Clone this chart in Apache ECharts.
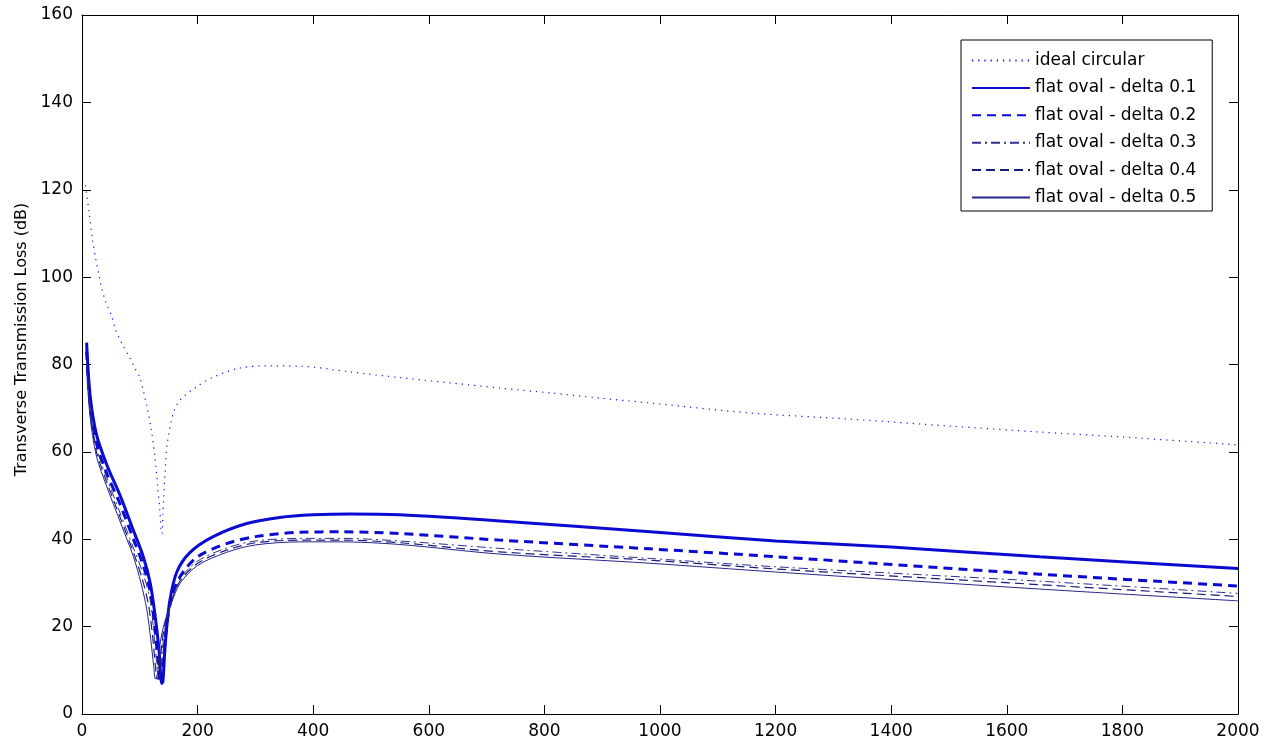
<!DOCTYPE html>
<html>
<head>
<meta charset="utf-8">
<script src="https://cdn.jsdelivr.net/npm/echarts@6/dist/echarts.min.js"></script>
<style>
  html, body { margin: 0; padding: 0; background: #fff; }
  #main { width: 1271px; height: 742px; }
</style>
</head>
<body>
<div id="main"></div>
<script>
// curves, [frequency, loss dB]
var idealCircular = [[6,121],[12,115],[18,108.6],[24,104],[29,100.7],[34,97.4],[41,94.4],[51,91.2],[58,88],[69,84.8],[82,81.7],[90,79.5],[100,77],[112,70.5],[120,65],[126,59],[131,52],[135,46],[137,42],[138.5,41.3],[140,46],[143.6,55],[147.6,62],[158,68.9],[170,71.9],[198,74.9],[227,77.1],[273,79.2],[325,79.7],[380,79.6],[464,78.3],[550,77],[637,75.8],[723,74.6],[810,73.5],[896,72.3],[983,71.2],[1156,68.9],[1329,67.5],[1502,65.9],[1650,64.6],[1800,63.4],[2000,61.6]];
var delta01 = [[8,85],[14,73],[25,64],[43,57],[66,50],[89,42],[106,36],[118,30],[126,23],[133,15],[138,7],[140,7.5],[143,14],[146,19],[152,26],[164,32.5],[187,37],[227,40.6],[285,43.6],[342,45],[400,45.6],[464,45.8],[550,45.6],[723,44.2],[983,41.7],[1200,39.6],[1400,38.2],[1657,36],[2000,33.3]];
var delta02 = [[8,83],[14,71],[25,62],[43,55],[66,48],[89,40],[106,34],[118,28],[125,21],[131,13],[136,7],[139,8],[142,14],[147,21],[155,26.5],[170,31.5],[200,36],[250,39],[300,40.6],[377,41.6],[450,41.7],[550,41.3],[723,39.8],[983,37.8],[1200,36],[1657,32],[2000,29.3]];
var delta03 = [[8,81],[14,70],[25,61],[43,54],[66,46],[89,38],[106,32],[118,26],[124,19],[129,12],[133,8],[136,9],[140,16],[146,21.5],[155,26],[170,31],[200,35],[250,38],[300,39.6],[377,40.2],[450,40.2],[550,39.6],[723,37.9],[983,35.6],[1200,33.7],[1657,30.4],[2000,27.6]];
var delta04 = [[8,80],[14,69],[25,60],[43,53],[66,45],[89,37],[104,31],[115,25],[122,18],[127,11],[130,8],[134,9],[138,16],[145,21.5],[155,26],[170,30.5],[200,34.5],[250,37.5],[300,39.2],[377,39.8],[450,39.8],[550,39.2],[723,37.1],[983,35.2],[1200,33.2],[1657,29.6],[2000,26.9]];
var delta05 = [[8,79],[14,68],[25,59],[43,52],[66,44],[89,36],[102,30],[112,24],[119,17],[124,11],[127,8],[131,9.5],[135,16],[143,21],[155,25.5],[170,30],[200,34],[250,37],[300,38.7],[377,39.4],[450,39.4],[550,38.8],[723,36.6],[983,34.5],[1200,32.5],[1657,28.6],[2000,25.9]];

var seriesNames = ['ideal circular', 'flat oval - delta 0.1', 'flat oval - delta 0.2',
    'flat oval - delta 0.3', 'flat oval - delta 0.4', 'flat oval - delta 0.5'];

var myChart = echarts.init(document.getElementById('main'));
var font = 'DejaVu Sans';

function line(name, data, color, width, type) {
    return {
        name: name, type: 'line', data: data,
        symbol: 'none', smooth: 0.3, animation: false,
        lineStyle: { color: color, width: width, type: type },
        itemStyle: { color: color }
    };
}

var tickStyle = { inside: true, length: 9, lineStyle: { color: '#000' } };
var boxLine = { show: true, onZero: false, lineStyle: { color: '#000' } };
var plain = function (v) { return String(v); };

myChart.setOption({
    backgroundColor: '#fff',
    animation: false,
    grid: { left: 82, right: 33, top: 15, bottom: 28 },
    legend: {
        orient: 'vertical', left: 961, top: 40,
        padding: [12, 16, 5, 10],
        borderColor: '#000', borderWidth: 1, backgroundColor: '#fff',
        itemWidth: 58, itemHeight: 16, itemGap: 10.4,
        itemStyle: { opacity: 0 },
        textStyle: { fontFamily: font, fontSize: 17, lineHeight: 16, color: '#000' },
        data: seriesNames
    },
    xAxis: [{
        type: 'value', min: 0, max: 2000, interval: 200,
        axisLine: boxLine,
        axisTick: tickStyle, splitLine: { show: false },
        axisLabel: { fontFamily: font, fontSize: 17, color: '#000', margin: 9, formatter: plain }
    }, {
        type: 'value', min: 0, max: 2000, interval: 200, position: 'top',
        axisLine: boxLine,
        axisTick: tickStyle, splitLine: { show: false }, axisLabel: { show: false }
    }],
    yAxis: [{
        type: 'value', min: 0, max: 160, interval: 20,
        name: 'Transverse Transmission Loss (dB)', nameLocation: 'middle', nameGap: 52,
        nameTextStyle: { fontFamily: font, fontSize: 16, color: '#000', padding: [0, 0, 0, 50] },
        axisLine: boxLine,
        axisTick: tickStyle, splitLine: { show: false },
        axisLabel: { fontFamily: font, fontSize: 17, color: '#000', margin: 9, formatter: plain }
    }, {
        type: 'value', min: 0, max: 160, interval: 20, position: 'right',
        axisLine: boxLine,
        axisTick: tickStyle, splitLine: { show: false }, axisLabel: { show: false }
    }],
    series: [
        line(seriesNames[0], idealCircular, '#1010ff', 1.2, [1.2, 5]),
        line(seriesNames[1], delta01, '#0a0ad0', 3, 'solid'),
        line(seriesNames[2], delta02, '#0a0ad0', 3, [9, 6]),
        line(seriesNames[3], delta03, '#303090', 1, [9, 4, 2, 4]),
        line(seriesNames[4], delta04, '#1a1a80', 1.2, [9, 5]),
        line(seriesNames[5], delta05, '#26268a', 1, 'solid')
    ]
});
</script>
</body>
</html>
